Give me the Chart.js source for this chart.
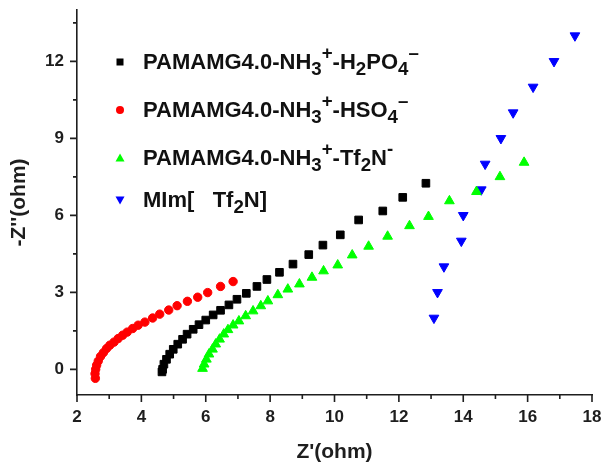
<!DOCTYPE html>
<html>
<head>
<meta charset="utf-8">
<script src="https://cdn.jsdelivr.net/npm/chart.js@4.4.0/dist/chart.umd.min.js"></script>
<style>
    body { margin: 0; background: #fff; overflow: hidden; }
    #wrap { position: relative; width: 603px; height: 466px; }
    #plot { position: absolute; left: 0; top: 0; }
    .legend-row {
        position: absolute;
        left: 113px;
        height: 24px;
        display: flex;
        align-items: center;
        font-family: "Liberation Sans", Arial, sans-serif;
        font-weight: bold;
        font-size: 22px;
        line-height: 24px;
        color: #111;
        white-space: pre;
    }
    .legend-row svg { width: 14px; height: 14px; flex: none; }
    .legend-row span.txt { margin-left: 16px; }
    .legend-row sub, .legend-row sup { font-size: 0.85em; line-height: 0; }
    .legend-row sub { vertical-align: -0.3em; }
    .legend-row sup { vertical-align: 0.55em; }
</style>
</head>
<body>
<div id="wrap">
    <canvas id="plot" width="603" height="466"></canvas>
    <div class="legend-row" style="top:50px">
        <svg viewBox="0 0 14 14"><rect x="3.5" y="3.5" width="7" height="7" fill="#000"/></svg>
        <span class="txt">PAMAMG4.0-NH<sub>3</sub><sup>+</sup>-H<sub>2</sub>PO<sub>4</sub><sup>–</sup></span>
    </div>
    <div class="legend-row" style="top:98px">
        <svg viewBox="0 0 14 14"><circle cx="7" cy="7" r="4" fill="#ff0000"/></svg>
        <span class="txt">PAMAMG4.0-NH<sub>3</sub><sup>+</sup>-HSO<sub>4</sub><sup>–</sup></span>
    </div>
    <div class="legend-row" style="top:146px">
        <svg viewBox="0 0 14 14"><polygon points="7,2.5 11.5,10.5 2.5,10.5" fill="#00ff00"/></svg>
        <span class="txt">PAMAMG4.0-NH<sub>3</sub><sup>+</sup>-Tf<sub>2</sub>N<sup>-</sup></span>
    </div>
    <div class="legend-row" style="top:188px">
        <svg viewBox="0 0 14 14"><polygon points="2.5,3.5 11.5,3.5 7,11.5" fill="#0000ff"/></svg>
        <span class="txt">MIm[   Tf<sub>2</sub>N]</span>
    </div>
</div>
<script>
// Axis ticks
const xTicks = [2, 4, 6, 8, 10, 12, 14, 16, 18];
const xMinorTicks = [3, 5, 7, 9, 11, 13, 15, 17];
const yTicks = [0, 3, 6, 9, 12];
const yMinorTicks = [1.5, 4.5, 7.5, 10.5, 13.5];

// PAMAMG4.0-NH3+-H2PO4- (black squares)
const h2po4X = [4.64, 4.66, 4.70, 4.78, 4.88, 4.99, 5.13, 5.28, 5.42, 5.61, 5.79, 6.00, 6.23, 6.46, 6.72, 6.97, 7.26, 7.59, 7.90, 8.29, 8.71, 9.20, 9.64, 10.18, 10.75, 11.50, 12.12, 12.84];
const h2po4Y = [-0.10, 0.00, 0.20, 0.39, 0.59, 0.78, 0.98, 1.17, 1.37, 1.56, 1.74, 1.92, 2.12, 2.30, 2.51, 2.73, 2.96, 3.23, 3.50, 3.78, 4.10, 4.47, 4.84, 5.24, 5.82, 6.17, 6.70, 7.25];

// PAMAMG4.0-NH3+-HSO4- (red circles)
const hso4X = [2.57, 2.56, 2.58, 2.61, 2.66, 2.73, 2.82, 2.92, 3.02, 3.15, 3.28, 3.42, 3.56, 3.73, 3.90, 4.11, 4.35, 4.57, 4.85, 5.11, 5.43, 5.75, 6.06, 6.46, 6.85];
const hso4Y = [-0.35, -0.17, 0.00, 0.16, 0.32, 0.50, 0.65, 0.81, 0.94, 1.06, 1.20, 1.33, 1.45, 1.59, 1.72, 1.84, 2.00, 2.15, 2.31, 2.48, 2.65, 2.81, 2.99, 3.23, 3.42];

// PAMAMG4.0-NH3+-Tf2N- (green triangles)
const tf2nX = [5.90, 5.95, 6.02, 6.10, 6.21, 6.31, 6.43, 6.56, 6.69, 6.85, 7.03, 7.24, 7.47, 7.71, 7.93, 8.24, 8.55, 8.91, 9.30, 9.66, 10.10, 10.55, 11.06, 11.65, 12.33, 12.92, 13.57, 14.41, 15.14, 15.89];
const tf2nY = [0.03, 0.20, 0.39, 0.59, 0.78, 0.98, 1.17, 1.37, 1.54, 1.72, 1.88, 2.08, 2.27, 2.47, 2.66, 2.90, 3.12, 3.32, 3.58, 3.83, 4.06, 4.45, 4.79, 5.18, 5.59, 5.95, 6.56, 6.92, 7.50, 8.06];

// MIm[Tf2N] (blue down triangles)
const mimX = [13.09, 13.20, 13.40, 13.94, 14.00, 14.56, 14.68, 15.17, 15.55, 16.17, 16.82, 17.47];
const mimY = [2, 3, 4, 5, 6, 7, 8, 9, 10, 11, 12, 13];

const axisColor = '#1e1e1e';
const tickFont = { family: '"Liberation Sans", Arial, sans-serif', size: 17, weight: 'bold', lineHeight: 1 };
const titleFont = { family: '"Liberation Sans", Arial, sans-serif', size: 21, weight: 'bold' };

function toPoints(xs, ys) {
    return xs.map((x, i) => ({ x: x, y: ys[i] }));
}

// Draw major and minor tick marks outside the axes
const axisTickMarks = {
    id: 'axisTickMarks',
    afterDraw(chart) {
        const { ctx, chartArea } = chart;
        const x = chart.scales.x;
        const y = chart.scales.y;
        ctx.save();
        ctx.strokeStyle = axisColor;
        ctx.lineWidth = 1.6;
        ctx.beginPath();
        xTicks.forEach(v => {
            const px = x.getPixelForValue(v);
            ctx.moveTo(px, chartArea.bottom);
            ctx.lineTo(px, chartArea.bottom + 7);
        });
        xMinorTicks.forEach(v => {
            const px = x.getPixelForValue(v);
            ctx.moveTo(px, chartArea.bottom);
            ctx.lineTo(px, chartArea.bottom + 4);
        });
        yTicks.forEach(v => {
            const py = y.getPixelForValue(v);
            ctx.moveTo(chartArea.left, py);
            ctx.lineTo(chartArea.left - 7, py);
        });
        yMinorTicks.forEach(v => {
            const py = y.getPixelForValue(v);
            ctx.moveTo(chartArea.left, py);
            ctx.lineTo(chartArea.left - 4, py);
        });
        ctx.stroke();
        ctx.restore();
    }
};

new Chart(document.getElementById('plot'), {
    type: 'scatter',
    data: {
        datasets: [
            {
                label: 'PAMAMG4.0-NH3+-H2PO4-',
                data: toPoints(h2po4X, h2po4Y),
                pointStyle: 'rect',
                pointRadius: 5.4,
                borderWidth: 1,
                backgroundColor: '#000000',
                borderColor: '#000000'
            },
            {
                label: 'PAMAMG4.0-NH3+-HSO4-',
                data: toPoints(hso4X, hso4Y),
                pointStyle: 'circle',
                pointRadius: 4.2,
                borderWidth: 1,
                backgroundColor: '#ff0000',
                borderColor: '#ff0000'
            },
            {
                label: 'PAMAMG4.0-NH3+-Tf2N-',
                data: toPoints(tf2nX, tf2nY),
                pointStyle: 'triangle',
                pointRadius: 5.6,
                borderWidth: 1,
                backgroundColor: '#00ff00',
                borderColor: '#00ff00'
            },
            {
                label: 'MIm[Tf2N]',
                data: toPoints(mimX, mimY),
                pointStyle: 'triangle',
                rotation: 180,
                pointRadius: 5.6,
                borderWidth: 1,
                backgroundColor: '#0000ff',
                borderColor: '#0000ff'
            }
        ]
    },
    options: {
        responsive: false,
        devicePixelRatio: 1,
        animation: false,
        clip: false,
        layout: { padding: 0 },
        plugins: {
            legend: { display: false },
            tooltip: { enabled: false }
        },
        scales: {
            x: {
                type: 'linear',
                min: 2,
                max: 18,
                afterBuildTicks: scale => { scale.ticks = xTicks.map(v => ({ value: v })); },
                afterFit: scale => {
                    scale.height = 71;
                    scale.paddingLeft = 0;
                    scale.paddingRight = 11;
                },
                grid: { display: false, drawTicks: false },
                border: { display: true, color: axisColor, width: 1.6 },
                ticks: { color: axisColor, font: tickFont, padding: 14, maxRotation: 0 },
                title: { display: true, text: "Z'(ohm)", color: axisColor, font: titleFont, padding: { top: 0, bottom: 1 } }
            },
            y: {
                type: 'linear',
                min: -1,
                max: 14,
                afterBuildTicks: scale => { scale.ticks = yTicks.map(v => ({ value: v })); },
                afterFit: scale => {
                    scale.width = 77;
                    scale.paddingTop = 10;
                    scale.paddingBottom = 0;
                },
                grid: { display: false, drawTicks: false },
                border: { display: true, color: axisColor, width: 1.6 },
                ticks: { color: axisColor, font: tickFont, padding: 13 },
                title: { display: true, text: "-Z''(ohm)", color: axisColor, font: titleFont, padding: { top: 7, bottom: 0 } }
            }
        }
    },
    plugins: [axisTickMarks]
});
</script>
</body>
</html>
